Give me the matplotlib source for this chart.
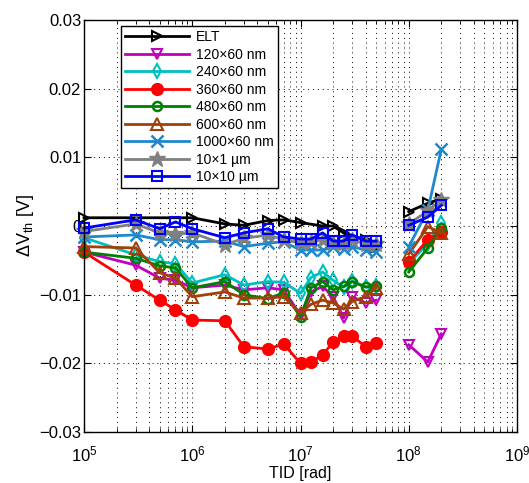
import numpy as np
import matplotlib
matplotlib.use("Agg")
import matplotlib.pyplot as plt
from matplotlib.ticker import LogLocator

plt.rcParams['font.family'] = ['Liberation Sans', 'DejaVu Sans']
plt.rcParams['mathtext.fontset'] = 'custom'
plt.rcParams['mathtext.rm'] = 'Liberation Sans'
plt.rcParams['mathtext.it'] = 'Liberation Sans:italic'
plt.rcParams['mathtext.bf'] = 'Liberation Sans:bold'

nan = np.nan
# TID doses [rad]
tid = [1e5, 3e5, 5e5, 7e5, 1e6, 2e6, 3e6, 5e6, 7e6, 1e7, 1.25e7, 1.6e7, 2e7,
       2.5e7, 3e7, 4e7, 5e7, 1e8, 1.5e8, 2e8]
gap_after = 5e7  # lines are broken between 5e7 and 1e8

labels = ['ELT', '120×60 nm', '240×60 nm', '360×60 nm', '480×60 nm',
          '600×60 nm', '1000×60 nm', '10×1 µm', '10×10 µm']

dv_elt = [0.0012, nan, nan, nan, 0.0012, 0.0003, 0.0001, 0.0008, 0.0009, 0.0005,
          nan, 0.0, 0.0, -0.0010, nan, -0.0020, -0.0030, 0.0021, 0.0033, 0.0040]
dv_120 = [-0.0038, -0.0057, -0.0076, -0.0079, -0.0090, -0.0086, -0.0093, -0.0090,
          -0.0093, -0.0130, -0.0096, -0.0088, -0.0103, -0.0134, -0.0103, -0.0112,
          -0.0108, -0.0173, -0.0198, -0.0157]
dv_240 = [-0.0017, -0.0042, -0.0052, -0.0055, -0.0083, -0.0071, -0.0086, -0.0081,
          -0.0082, -0.0098, -0.0075, -0.0067, -0.0079, -0.0089, -0.0080, -0.0089,
          -0.0087, -0.0055, -0.0025, 0.0004]
dv_360 = [-0.0038, -0.0086, -0.0108, -0.0122, -0.0137, -0.0138, -0.0176, -0.0179,
          -0.0172, -0.0200, -0.0198, -0.0188, -0.0169, -0.0160, -0.0160, -0.0176,
          -0.0170, -0.0052, -0.0020, -0.0009]
dv_480 = [-0.0038, -0.0047, -0.0058, -0.0061, -0.0090, -0.0081, -0.0100, -0.0106,
          -0.0097, -0.0132, -0.0090, -0.0081, -0.0093, -0.0088, -0.0081, -0.0089,
          -0.0087, -0.0067, -0.0032, -0.0003]
dv_600 = [-0.0030, -0.0032, -0.0068, -0.0076, -0.0103, -0.0096, -0.0105, -0.0105,
          -0.0103, -0.0127, -0.0114, -0.0108, -0.0112, -0.0121, -0.0110, -0.0103,
          -0.0090, -0.0041, -0.0001, -0.0010]
dv_1000 = [-0.0016, -0.0013, -0.0020, -0.0020, -0.0023, -0.0022, -0.0030, -0.0025,
           -0.0023, -0.0035, -0.0035, -0.0035, -0.0031, -0.0033, -0.0030, -0.0035,
           -0.0038, -0.0030, 0.0023, 0.0112]
dv_10x1 = [-0.0008, 0.0003, -0.0010, -0.0012, -0.0010, -0.0027, -0.0018, -0.0013,
           -0.0020, -0.0025, -0.0024, -0.0020, -0.0025, -0.0025, -0.0020, -0.0026,
           -0.0026, 0.0003, 0.0022, 0.0038]
dv_10x10 = [-0.0003, 0.0009, -0.0004, 0.0006, -0.0004, -0.0017, -0.0010, -0.0004,
            -0.0016, -0.0019, -0.0019, -0.0010, -0.0022, -0.0022, -0.0013, -0.0022,
            -0.0022, 0.0001, 0.0013, 0.0030]

series = [dv_elt, dv_120, dv_240, dv_360, dv_480, dv_600, dv_1000, dv_10x1, dv_10x10]
styles = [
    dict(color='black', marker='>', mfc='none', ms=7.5, mew=1.5),
    dict(color='#BF00BF', marker='v', mfc='none', ms=7, mew=1.5),
    dict(color='#00BFBF', marker='d', mfc='none', ms=7, mew=1.5),
    dict(color='#FF0000', marker='o', mfc='#FF0000', ms=8.5, mew=1.0),
    dict(color='#008000', marker='o', mfc='none', ms=6.5, mew=1.8),
    dict(color='#A0400A', marker='^', mfc='none', ms=8, mew=1.5),
    dict(color='#1E88CC', marker='x', mfc='none', ms=8, mew=1.8),
    dict(color='#808080', marker='*', mfc='#808080', ms=12, mew=1.0),
    dict(color='#0000FF', marker='s', mfc='none', ms=6.5, mew=1.5),
]

fig = plt.figure(figsize=(5.29, 4.83), dpi=100)
ax = fig.add_axes([84/529, 1-432/483, (517-84)/529, (432-20)/483])

x = np.array(tid)
handles = []
for y, lab, st in zip(series, labels, styles):
    y = np.array(y, dtype=float)
    h = None
    for seg in (x <= gap_after, x > gap_after):
        m = seg & np.isfinite(y)
        ln, = ax.plot(x[m], y[m], linestyle='-', linewidth=2, clip_on=False,
                      **st)
        if h is None:
            h = ln
    handles.append(h)

ax.set_xscale('log')
ax.set_xlim(1e5, 1e9)
ax.set_ylim(-0.03, 0.03)
ax.set_yticks([-0.03, -0.02, -0.01, 0, 0.01, 0.02, 0.03])
ax.set_yticklabels(['−0.03', '−0.02', '−0.01', '0', '0.01', '0.02', '0.03'])
ax.xaxis.set_major_locator(LogLocator(base=10, numticks=10))
ax.xaxis.set_minor_locator(LogLocator(base=10, subs=np.arange(2, 10), numticks=20))
ax.tick_params(which='both', direction='in', top=True, right=True, labelsize=12)
ax.tick_params(which='major', length=5, width=0.8)
ax.tick_params(which='minor', length=3, width=0.6)
ax.tick_params(axis='x', which='major', pad=9)
ax.tick_params(axis='y', which='major', pad=2)
ax.grid(True, which='major', axis='both', color='k', linestyle=(0, (1, 4)), linewidth=0.7)
ax.grid(True, which='minor', axis='x', color='k', linestyle=(0, (1, 4)), linewidth=0.7)
for s in ax.spines.values():
    s.set_linewidth(1.0)

ax.set_xlabel('TID [rad]', fontsize=11.5, labelpad=1)
ax.set_ylabel(r'$\Delta$V$_{\rm th}$ [V]', fontsize=13, labelpad=2)

leg = ax.legend(handles, labels, loc='upper left', bbox_to_anchor=(0.085, 0.985),
                borderaxespad=0, fontsize=10, frameon=True, fancybox=False,
                framealpha=1, edgecolor='k', handlelength=4.6, handletextpad=0.5,
                labelspacing=0.25, borderpad=0.3)
leg.get_frame().set_linewidth(1.0)

fig.savefig('out.png', dpi=100)
